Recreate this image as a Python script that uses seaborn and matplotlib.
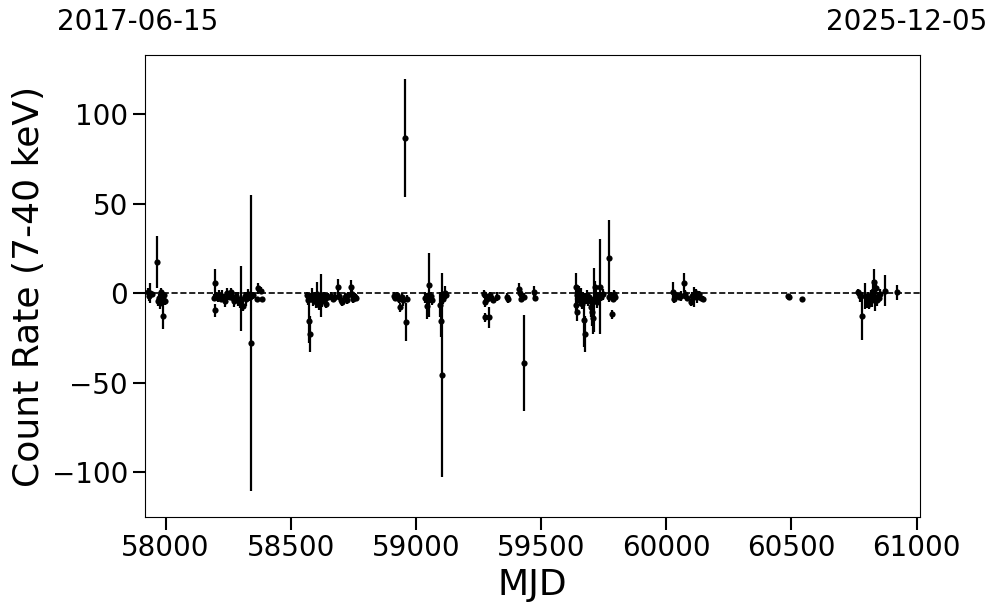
import numpy as np
import pandas as pd
import matplotlib
matplotlib.use("Agg")
import matplotlib.pyplot as plt
import seaborn as sns

# light curve values
mjd = [57928, 57932, 57937, 57945, 57964, 57968, 57972, 57976, 57980, 57983, 57988, 57991, 57994, 57998,
       58192, 58197, 58199, 58203, 58209, 58214, 58220, 58226, 58232, 58238, 58244, 58250, 58256, 58262,
       58268, 58275, 58282, 58290, 58296, 58302, 58308, 58316, 58322, 58330, 58336, 58343, 58350, 58370,
       58366, 58380, 58386,
       58565, 58569, 58573, 58576, 58580, 58586, 58590, 58596, 58601, 58606, 58610, 58615, 58619, 58623,
       58627, 58632, 58637, 58642, 58650, 58660, 58668, 58676, 58688, 58694, 58700, 58706, 58715, 58723,
       58730, 58739, 58743, 58748, 58755, 58762,
       58912, 58918, 58925, 58932, 58938, 58945, 58950, 58957, 58961, 58966,
       59038, 59045, 59051, 59055, 59060, 59063, 59098, 59101, 59103, 59106, 59110, 59118, 59122,
       59272, 59275, 59278, 59285, 59292, 59295, 59300, 59310, 59325,
       59365, 59368, 59413, 59416, 59420, 59431, 59433, 59472, 59475,
       59638, 59640, 59642, 59645, 59648, 59652, 59655, 59660, 59664, 59668, 59672, 59675, 59678, 59682,
       59686, 59690, 59700, 59705, 59708, 59711, 59714, 59718, 59722, 59728, 59735, 59740, 59748, 59770,
       59773, 59778, 59782, 59786, 59790, 59794,
       60028, 60032, 60040, 60050, 60060, 60071, 60075, 60085, 60098, 60105, 60112, 60120, 60125, 60130,
       60138, 60148,
       60488, 60491, 60544,
       60767, 60775, 60783, 60795, 60802, 60808, 60812, 60817, 60822, 60826, 60830, 60834, 60838, 60842,
       60846, 60850, 60855, 60873, 60921]
rate = [0.5, -1.5, 0.0, -0.5, 17.3, -4.5, -2.5, -5.5, -2.0, 0.5, -12.8, -3.0, -1.0, -4.5,
        -2.5, 5.6, -9.5, -1.5, -2.5, -0.8, -3.0, -1.5, -2.5, -4.5, 0.0, -1.0, -2.0, 1.0,
        -2.5, -4.5, -1.5, -3.0, -5.5, -3.0, -7.0, -1.5, -3.0, -0.5, -2.0, -27.8, -1.0, 2.8,
        -3.4, 1.5, -3.4,
        -1.0, -3.5, -15.5, -22.9, -2.5, -1.0, -4.0, -2.0, -5.0, -0.5, -3.0, -6.5, -2.0, -1.3,
        -4.5, -1.0, -3.0, -6.0, -2.0, -1.5, -3.0, -2.0, 3.7, -1.5, -3.5, -5.0, -2.0, -3.5,
        -1.0, 3.7, -0.5, -3.0, -2.0, -2.5,
        -1.5, -2.5, -1.0, -3.0, -7.8, -2.0, -4.0, 86.7, -15.9, -3.0,
        -2.5, -7.1, 4.7, -2.4, -1.5, -4.0, -6.4, -15.5, -45.4, -1.6, -3.0, 0.0, -1.0,
        -0.4, -4.7, -13.5, -3.0, -13.5, -1.0, -2.5, -3.5, -2.0,
        -1.9, -3.4, 2.5, 0.0, -3.0, -39.1, -2.0, 0.5, -2.5,
        3.7, -6.5, -10.3, -1.0, -3.0, 0.0, -4.0, -2.0, -6.0, -1.5, -14.9, -22.9, -3.0, -1.0,
        -4.5, -2.0, -7.5, -10.3, -14.0, -3.7, 3.7, -1.0, -5.0, -2.0, 3.7, -2.0, -0.5, 20.0,
        -2.0, -1.0, -11.6, -3.0, -0.5, -2.0,
        1.0, -3.0, -1.0, -2.0, -1.5, 6.0, -0.5, -2.5, -5.0, -1.5, -2.0, 0.0, -2.0, -0.5,
        -2.5, -3.0,
        -1.5, -2.2, -3.4,
        0.5, -1.7, -12.7, -1.5, -5.0, -2.0, -6.0, -1.0, -3.5, 1.5, 6.5, -2.0, 3.0, -4.0,
        -1.5, -2.5, -0.5, 1.5, 0.5]
err = [2.5, 3.0, 5.5, 1.5, 14.5, 2.5, 2.0, 3.0, 2.5, 2.5, 7.0, 3.0, 2.0, 2.0,
       2.0, 8.0, 3.7, 2.0, 2.5, 2.5, 2.0, 3.5, 2.0, 3.0, 3.0, 2.5, 1.5, 2.0,
       2.5, 3.0, 2.0, 4.0, 2.5, 18.0, 3.0, 2.5, 4.0, 3.0, 2.5, 82.7, 2.0, 3.0,
       1.5, 2.0, 1.5,
       2.0, 3.0, 12.0, 10.0, 2.5, 4.0, 3.0, 2.5, 3.0, 7.0, 2.5, 3.0, 2.0, 12.0,
       3.0, 2.0, 2.5, 2.0, 2.0, 2.0, 2.0, 2.5, 4.5, 2.0, 2.5, 2.0, 2.0, 2.5,
       2.0, 4.0, 2.5, 2.5, 2.0, 2.0,
       2.0, 2.0, 2.0, 2.5, 2.5, 2.0, 3.0, 33.0, 10.5, 2.0,
       3.0, 7.0, 18.0, 3.0, 2.0, 2.5, 7.0, 9.0, 57.0, 2.5, 3.0, 4.0, 2.0,
       2.5, 3.0, 2.5, 2.5, 6.0, 2.0, 2.0, 2.0, 2.5,
       2.0, 2.0, 3.5, 2.0, 2.0, 26.8, 2.0, 3.5, 2.0,
       7.5, 4.0, 5.0, 3.0, 2.5, 4.0, 3.0, 5.0, 3.0, 2.5, 15.0, 10.0, 3.0, 3.0,
       2.5, 2.0, 6.0, 8.0, 9.0, 17.7, 3.0, 3.0, 3.0, 2.5, 26.6, 2.5, 3.0, 21.0,
       3.0, 2.0, 2.5, 2.0, 2.5, 2.0,
       5.5, 2.5, 2.0, 2.0, 3.0, 5.5, 2.5, 2.0, 2.0, 2.5, 5.5, 2.5, 3.5, 2.0,
       2.0, 1.5,
       1.0, 1.0, 1.0,
       2.0, 3.0, 13.6, 7.0, 3.0, 2.5, 3.0, 3.0, 4.0, 6.0, 7.0, 8.0, 3.5, 3.0,
       2.0, 2.5, 3.0, 8.5, 4.0]

start_label = "2017-06-15"
end_label = "2025-12-05"
mjd_start, mjd_end = 57919, 61014

df = pd.DataFrame({"MJD": mjd, "rate": rate, "err": err})

sns.set_theme(style="ticks", rc={"text.color": "black", "axes.labelcolor": "black",
                                 "xtick.color": "black", "ytick.color": "black",
                                 "axes.edgecolor": "black"})
plt.rcParams['font.family'] = ['DejaVu Sans']

fig = plt.figure(figsize=(9.97, 6.13), dpi=100)
ax = fig.add_axes([0.1457, 0.1566, 0.7771, 0.7532])

ax.errorbar(df["MJD"], df["rate"], yerr=df["err"], fmt="none", ecolor="black", elinewidth=1.6, capsize=0)
sns.scatterplot(data=df, x="MJD", y="rate", ax=ax, color="black", s=20, edgecolor="black", linewidth=0, zorder=3)
ax.axhline(0, color="black", ls="--", lw=1.2)

ax.set_xlim(mjd_start, mjd_end)
ax.set_ylim(-125, 133)
ax.set_xlabel("MJD", fontsize=26)
ax.set_ylabel("Count Rate (7-40 keV)", fontsize=26)
ax.tick_params(axis="both", labelsize=20, length=9, width=1.5, direction="out")
for s in ax.spines.values():
    s.set_linewidth(0.8)

fig.text(0.057, 0.964, start_label, ha="left", va="center", fontsize=20)
fig.text(0.99, 0.964, end_label, ha="right", va="center", fontsize=20)

fig.savefig("out.png", dpi=100)
